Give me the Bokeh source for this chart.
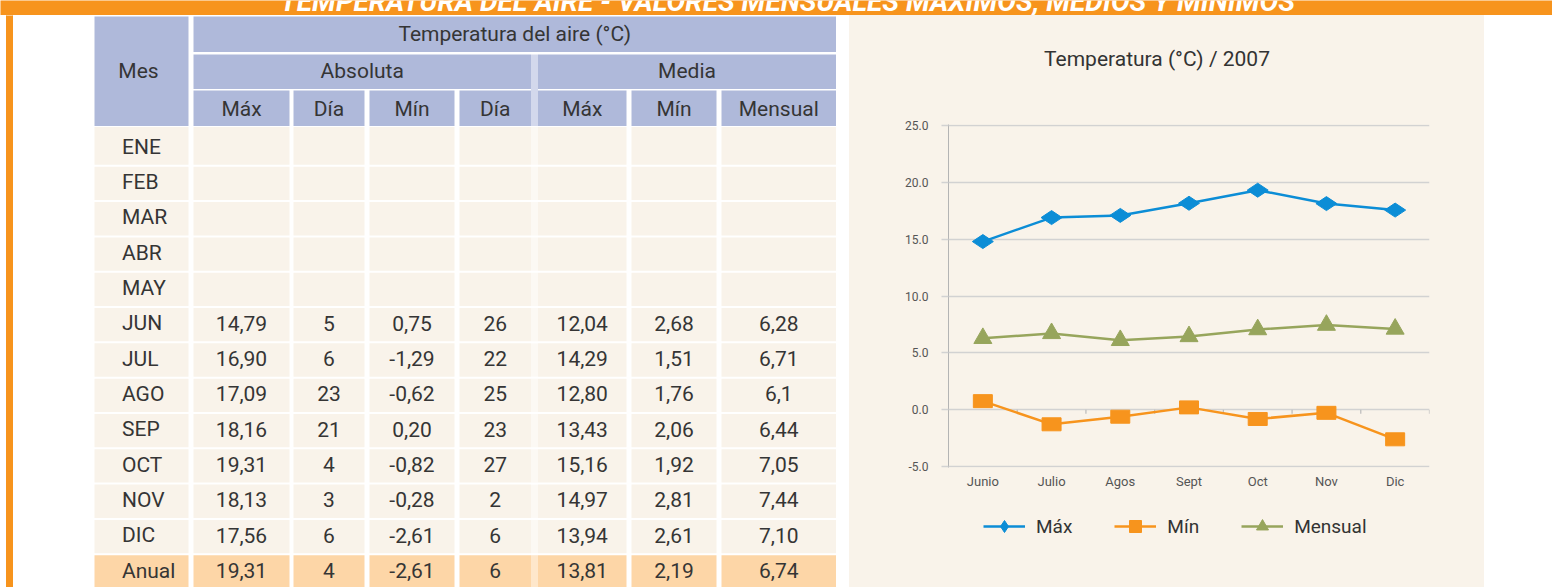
import math
from bokeh.plotting import figure
from bokeh.models import (Range1d, FactorRange, FixedTicker, PrintfTickFormatter,
                          Legend, LegendItem, Spacer)
from bokeh.layouts import column, row
from bokeh.transform import dodge
from bokeh.core.properties import value
from bokeh.embed import file_html
from bokeh.resources import INLINE

# ---------------- data ----------------
page_title = "TEMPERATURA DEL AIRE - VALORES MENSUALES MÁXIMOS, MEDIOS Y MÍNIMOS"
header_top = "Temperatura del aire (°C)"
header_mes = "Mes"
header_groups = ["Absoluta", "Media"]
header_cols = ["Máx", "Día", "Mín", "Día", "Máx", "Mín", "Mensual"]

months = ["ENE", "FEB", "MAR", "ABR", "MAY", "JUN", "JUL", "AGO", "SEP", "OCT", "NOV", "DIC"]
annual_label = "Anual"

abs_max = ["", "", "", "", "", "14,79", "16,90", "17,09", "18,16", "19,31", "18,13", "17,56"]
abs_max_day = ["", "", "", "", "", "5", "6", "23", "21", "4", "3", "6"]
abs_min = ["", "", "", "", "", "0,75", "-1,29", "-0,62", "0,20", "-0,82", "-0,28", "-2,61"]
abs_min_day = ["", "", "", "", "", "26", "22", "25", "23", "27", "2", "6"]
mean_max = ["", "", "", "", "", "12,04", "14,29", "12,80", "13,43", "15,16", "14,97", "13,94"]
mean_min = ["", "", "", "", "", "2,68", "1,51", "1,76", "2,06", "1,92", "2,81", "2,61"]
monthly = ["", "", "", "", "", "6,28", "6,71", "6,1", "6,44", "7,05", "7,44", "7,10"]
annual_row = ["19,31", "4", "-2,61", "6", "13,81", "2,19", "6,74"]

chart_title = "Temperatura (°C) / 2007"
chart_categories = ["Junio", "Julio", "Agos", "Sept", "Oct", "Nov", "Dic"]
y_ticks = [-5, 0, 5, 10, 15, 20, 25]
legend_labels = ["Máx", "Mín", "Mensual"]


def num(s):
    return float(s.replace(",", "."))


first = months.index("JUN")
series_max = [num(s) for s in abs_max[first:]]
series_min = [num(s) for s in abs_min[first:]]
series_mensual = [num(s) for s in monthly[first:]]

# ---------------- style ----------------
FONT = "Roboto"
ORANGE = "#F7941D"
LAV = "#AFB9DA"
LAV_SEP = "#D3D8EC"
CREAM = "#F9F3EA"
CREAM_SEP = "#FCF9F4"
PEACH = "#FDD6A7"
PEACH_SEP = "#FEE7CB"
TXT = "#353535"
BLUE = "#0C8DD6"
OLIVE = "#97A55C"
GRID = "#D2D2D2"
SHIFT = 0.38  # baseline correction, in em


def blank(width, height, xr, yr, bg):
    f = figure(width=width, height=height, x_range=xr, y_range=yr, title=None,
               x_axis_type=None, y_axis_type=None, toolbar_location=None,
               output_backend="svg", min_border=0, frame_align=False)
    f.grid.visible = False
    f.outline_line_color = None
    f.background_fill_color = bg
    f.border_fill_color = bg
    return f


# ---------------- top orange bar ----------------
top = blank(1552, 15, Range1d(0, 1552), Range1d(15, 0), ORANGE)
top.text(x=[787], y=[11.7 - SHIFT * 28], text=[page_title], text_font=value(FONT),
         text_font_style="bold italic", text_font_size="28px", text_color="white",
         text_align="center", text_baseline="alphabetic")

# ---------------- table ----------------
tbl = blank(849, 572, Range1d(0, 849), Range1d(587, 15), "white")

# orange frame strip on the left
tbl.quad(left=[6], right=[12], top=[0], bottom=[600], color=ORANGE)

col_edges = [(94, 188), (193, 289), (293, 364), (369, 454), (459, 530.5),
             (537.5, 626), (631, 716), (721, 835.5)]
sep_edge = (530.5, 537.5)

L, R, T, B, C = [], [], [], [], []


def cell(l, r, t, b, c):
    L.append(l); R.append(r); T.append(t); B.append(b); C.append(c)


# header
cell(94, 188, 16, 125.5, LAV)
cell(193, 835.5, 16, 51.5, LAV)
cell(193, 530.5, 54, 88.5, LAV)
cell(537.5, 835.5, 54, 88.5, LAV)
for (l, r) in col_edges[1:]:
    cell(l, r, 90, 125.5, LAV)
cell(sep_edge[0], sep_edge[1], 54, 125.5, LAV_SEP)

# body rows
row_h = 35.31
bottoms = [164.3 + k * row_h for k in range(len(months))]
tops = [126.5] + [b + 2 for b in bottoms[:-1]]
tops.append(bottoms[-1] + 2)
bottoms.append(tops[-1] + 33.3)
for k in range(len(months) + 1):
    fill = PEACH if k == len(months) else CREAM
    sfill = PEACH_SEP if k == len(months) else CREAM_SEP
    for (l, r) in col_edges:
        cell(l, r, tops[k], bottoms[k], fill)
    cell(sep_edge[0], sep_edge[1], tops[k], bottoms[k], sfill)

tbl.quad(left=L, right=R, top=T, bottom=B, fill_color=C, line_color=None)

FS = 21
dy = SHIFT * FS
tkw = dict(text_font=value(FONT), text_font_size=f"{FS}px", text_color=TXT,
           text_baseline="alphabetic")
centers = [(l + r) / 2 for (l, r) in col_edges]

# header texts
tbl.text(x=[138], y=[78 - dy], text=[header_mes], text_align="center", **tkw)
tbl.text(x=[(193 + 835.5) / 2], y=[41.5 - dy], text=[header_top], text_align="center", **tkw)
tbl.text(x=[(193 + 530.5) / 2, (537.5 + 835.5) / 2], y=[78 - dy, 78 - dy],
         text=header_groups, text_align="center", **tkw)
tbl.text(x=centers[1:], y=[116 - dy] * 7, text=header_cols, text_align="center", **tkw)

# body texts
labels = months + [annual_label]
tbl.text(x=[121.5] * len(labels), y=[b - 10 - dy for b in bottoms], text=labels,
         text_align="left", **tkw)
cols = [abs_max, abs_max_day, abs_min, abs_min_day, mean_max, mean_min, monthly]
xs, ys, ts = [], [], []
for j, colvals in enumerate(cols):
    for k, v in enumerate(colvals + [annual_row[j]]):
        if v:
            xs.append(centers[j + 1]); ys.append(bottoms[k] - 10 - dy); ts.append(v)
tbl.text(x=xs, y=ys, text=ts, text_align="center", **tkw)

# ---------------- chart title ----------------
ttl = blank(635, 85, Range1d(849, 1484), Range1d(100, 15), CREAM)
ttl.text(x=[1156.5], y=[66.5 - SHIFT * 21], text=[chart_title], text_font=value(FONT),
         text_font_size="21px", text_color="#333333", text_align="center",
         text_baseline="alphabetic")

# ---------------- chart ----------------
ch = figure(width=635, height=405, x_range=FactorRange(*chart_categories),
            y_range=Range1d(-5.09, 25.09), toolbar_location=None, output_backend="svg",
            title=None, min_border_left=99, min_border_right=55, min_border_top=24,
            min_border_bottom=38, frame_align=False)
ch.background_fill_color = CREAM
ch.border_fill_color = CREAM
ch.outline_line_color = None
ch.xgrid.visible = False
ch.ygrid.grid_line_color = GRID
ch.ygrid.grid_line_width = 1.5

ya = ch.yaxis[0]
ya.ticker = FixedTicker(ticks=y_ticks)
ya.formatter = PrintfTickFormatter(format="%.1f")
ya.major_tick_out = 7
ya.major_tick_in = 0
ya.minor_tick_line_color = None
ya.major_tick_line_color = GRID
ya.major_tick_line_width = 1.5
ya.axis_line_color = "#B4B4B4"
ya.major_label_text_font = FONT
ya.major_label_text_font_size = "12px"
ya.major_label_text_color = "#555555"
ya.major_label_standoff = 13

xa = ch.xaxis[0]
xa.axis_line_color = None
xa.major_tick_line_color = None
xa.minor_tick_line_color = None
xa.major_tick_in = 0
xa.major_tick_out = 0
xa.major_label_text_font = FONT
xa.major_label_text_font_size = "13px"
xa.major_label_text_color = "#555555"
xa.major_label_standoff = 6

# small ticks on the zero line at category boundaries
ch.segment(x0=dodge("x", 0.5, range=ch.x_range), x1=dodge("x", 0.5, range=ch.x_range),
           y0="y0", y1="y1",
           source=dict(x=chart_categories, y0=[0] * 7, y1=[-0.35] * 7),
           line_color="#BBBBBB", line_width=1.2)

ch.line(chart_categories, series_max, line_color=BLUE, line_width=2.5)
ch.line(chart_categories, series_min, line_color=ORANGE, line_width=2.5)
ch.line(chart_categories, series_mensual, line_color=OLIVE, line_width=2.5)

ch.scatter(chart_categories, series_max, marker="diamond", size=21, angle=math.pi / 2,
           color=BLUE)
ch.rect(chart_categories, series_min, width=19, height=13, width_units="screen",
        height_units="screen", color=ORANGE)
ch.scatter(chart_categories, series_mensual, marker="triangle", size=18, color=OLIVE)

# ---------------- legend ----------------
leg = blank(635, 82, Range1d(0, 1), Range1d(0, 1), CREAM)
colors = [BLUE, ORANGE, OLIVE]
markers = ["diamond", "square", "triangle"]
items = []
for lab, col, mk in zip(legend_labels, colors, markers):
    lr = leg.line(x=[-5, -4], y=[-5, -5], line_color=col, line_width=2.5)
    sr = leg.scatter(x=[-5], y=[-5], marker=mk, size=12, color=col)
    items.append(LegendItem(label=lab, renderers=[lr, sr]))

legend = Legend(items=items, orientation="horizontal", location=(134, 46), glyph_width=42,
                glyph_height=30, label_height=30, label_standoff=11, spacing=42,
                padding=0, margin=0, border_line_color=None, background_fill_alpha=0,
                label_text_font=FONT, label_text_font_size="19px",
                label_text_color="#333333")
leg.add_layout(legend)

chart_col = column(ttl, ch, leg, styles={"background-color": CREAM})
layout = column(top, row(tbl, chart_col, Spacer(width=68, height=572)))

open("out.html", "w").write(file_html(layout, INLINE))
